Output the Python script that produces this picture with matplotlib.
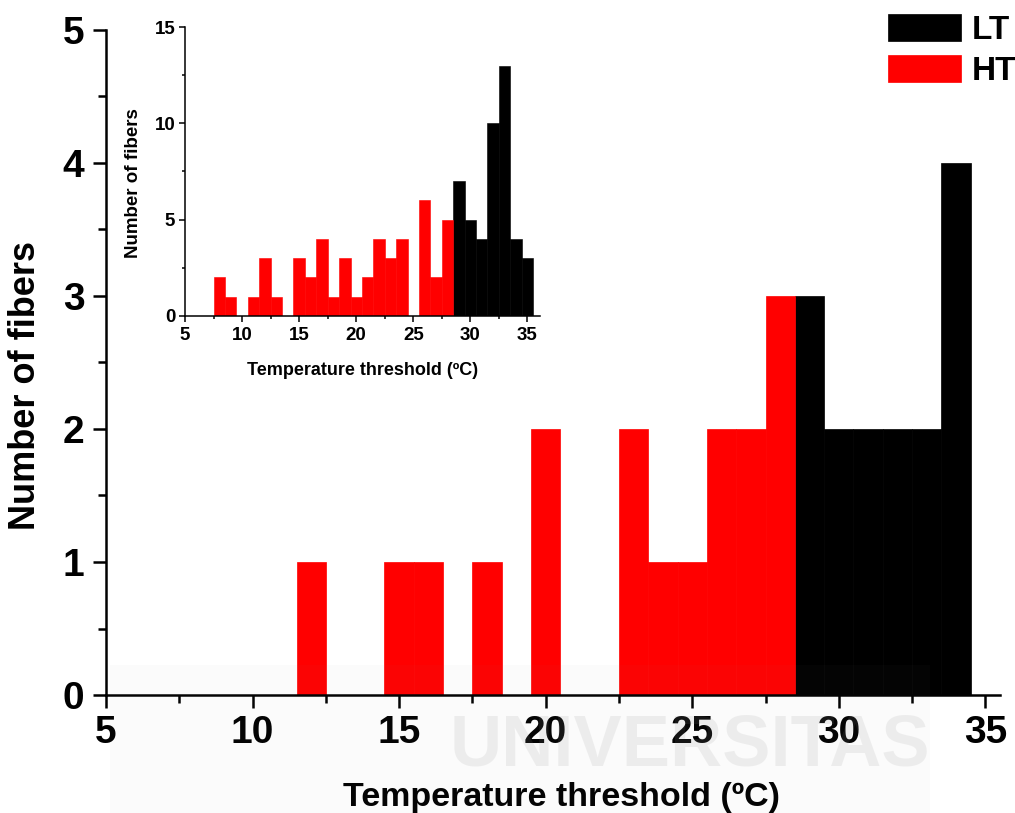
import matplotlib
matplotlib.use("Agg")
import matplotlib.pyplot as plt
from matplotlib.ticker import MultipleLocator
from matplotlib.patches import Rectangle

plt.rcParams['font.family'] = ['Liberation Sans', 'DejaVu Sans']
plt.rcParams['font.weight'] = 'bold'

# main histogram (bin centres, counts)
main_ht_x = [12, 15, 16, 18, 20, 23, 24, 25, 26, 27, 28]
main_ht_n = [1, 1, 1, 1, 2, 2, 1, 1, 2, 2, 3]
main_lt_x = [29, 30, 31, 32, 33, 34]
main_lt_n = [3, 2, 2, 2, 2, 4]

# inset histogram
ins_ht_x = [8, 9, 11, 12, 13, 15, 16, 17, 18, 19, 20, 21, 22, 23, 24, 26, 27, 28]
ins_ht_n = [2, 1, 1, 3, 1, 3, 2, 4, 1, 3, 1, 2, 4, 3, 4, 6, 2, 5]
ins_lt_x = [29, 30, 31, 32, 33, 34, 35]
ins_lt_n = [7, 5, 4, 10, 13, 4, 3]

x_ticks = [5, 10, 15, 20, 25, 30, 35]

fig = plt.figure(figsize=(10.15, 8.13), dpi=100)

# main axes
ax = fig.add_axes([106/1015, 118/813, 894/1015, 665/813])
ax.set_facecolor('none')
b1 = ax.bar(main_lt_x, main_lt_n, width=1, color='black', edgecolor='black', linewidth=0.5, label='LT')
b2 = ax.bar(main_ht_x, main_ht_n, width=1, color='red', edgecolor='red', linewidth=0.5, label='HT')
ax.set_xlim(5, 35.5)
ax.set_ylim(0, 5)
ax.set_xticks(x_ticks)
ax.xaxis.set_minor_locator(MultipleLocator(2.5))
ax.yaxis.set_major_locator(MultipleLocator(1))
ax.yaxis.set_minor_locator(MultipleLocator(0.5))
for s in ['top', 'right']:
    ax.spines[s].set_visible(False)
for s in ['left', 'bottom']:
    ax.spines[s].set_linewidth(1.8)
ax.tick_params(which='major', direction='out', length=9.4, width=1.8, labelsize=28)
ax.tick_params(which='minor', direction='out', length=5.8, width=1.8)
ax.tick_params(axis='x', which='major', pad=5)
ax.tick_params(axis='y', which='major', pad=6)
for lab in ax.get_xticklabels() + ax.get_yticklabels():
    lab.set_fontweight('bold')
ax.set_xlabel('Temperature threshold (ºC)', fontsize=24.5, fontweight='bold', va='baseline')
ax.xaxis.set_label_coords(0.509, -0.167)
ax.set_ylabel('Number of fibers', fontsize=26, fontweight='bold', va='center')
ax.yaxis.set_label_coords(-0.0895, 0.466)

leg = ax.legend(handles=[b1, b2], loc='upper left', frameon=False,
                bbox_to_anchor=(888/1015, 1 - 14/813), bbox_transform=fig.transFigure,
                borderpad=0, borderaxespad=0, handlelength=2.19, handleheight=0.87,
                handletextpad=0.33, labelspacing=0.27,
                prop={'weight': 'bold', 'size': 24})

# inset axes
ax2 = fig.add_axes([185/1015, 497/813, 355/1015, 289/813])
ax2.set_facecolor('none')
ax2.bar(ins_lt_x, ins_lt_n, width=1, color='black', edgecolor='black', linewidth=0.4)
ax2.bar(ins_ht_x, ins_ht_n, width=1, color='red', edgecolor='red', linewidth=0.4)
ax2.set_xlim(5, 36.1)
ax2.set_ylim(0, 15)
ax2.set_xticks(x_ticks)
ax2.xaxis.set_minor_locator(MultipleLocator(2.5))
ax2.yaxis.set_major_locator(MultipleLocator(5))
ax2.yaxis.set_minor_locator(MultipleLocator(2.5))
for s in ['top', 'right']:
    ax2.spines[s].set_visible(False)
for s in ['left', 'bottom']:
    ax2.spines[s].set_linewidth(1.1)
ax2.tick_params(which='major', direction='out', length=4, width=1.1, labelsize=13.5)
ax2.tick_params(which='minor', direction='out', length=2.5, width=1.1)
ax2.tick_params(axis='x', which='major', pad=4)
ax2.tick_params(axis='y', which='major', pad=3)
for lab in ax2.get_xticklabels() + ax2.get_yticklabels():
    lab.set_fontweight('bold')
ax2.set_xlabel('Temperature threshold (ºC)', fontsize=13, fontweight='bold', va='baseline')
ax2.xaxis.set_label_coords(0.499, -0.204)
ax2.set_ylabel('Number of fibers', fontsize=13.5, fontweight='bold', va='center')
ax2.yaxis.set_label_coords(-0.144, 0.46)

# faint watermark of the source document
fig.patches.append(Rectangle((110/1015, 0), 820/1015, 148/813, transform=fig.transFigure,
                             facecolor='#8e8e8e', alpha=0.03, edgecolor='none', zorder=10))
fig.text(690/1015, 1 - 765/813, 'UNIVERSITAS', ha='center', va='baseline', fontsize=52,
         fontweight='bold', color='#8e8e8e', alpha=0.13, zorder=11)

fig.savefig('out.png', dpi=100)
